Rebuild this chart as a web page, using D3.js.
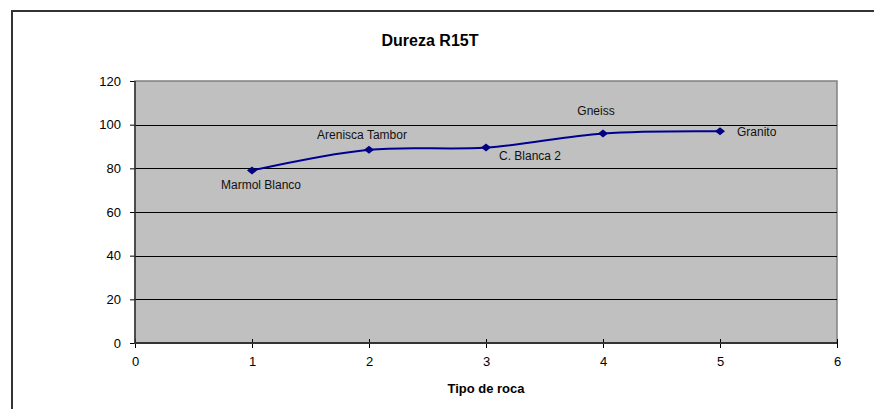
<!DOCTYPE html>
<html>
<head>
<meta charset="utf-8">
<script src="https://cdn.jsdelivr.net/npm/d3@7"></script>
<style>
  body { margin: 0; background: #fff; }
  svg { display: block; font-family: "Liberation Sans", Arial, sans-serif; }
</style>
</head>
<body>
<svg id="chart" width="874" height="409"></svg>
<script>
'use strict';

// data
var rocks   = ['Marmol Blanco', 'Arenisca Tambor', 'C. Blanca 2', 'Gneiss', 'Granito']
  , tipo    = [1, 2, 3, 4, 5]
  , dureza  = [79, 88.5, 89.5, 96, 97]
  , place   = ['below', 'above', 'belowRight', 'aboveHigh', 'right']   // label placement
  , xTicks  = [0, 1, 2, 3, 4, 5, 6]
  , yTicks  = [0, 20, 40, 60, 80, 100, 120];

var svg = d3.select('#chart')
  , m = { left: 135, right: 837, top: 81, bottom: 343 };

var x = d3.scaleLinear().domain([0, 6]).range([m.left, m.right])
  , y = d3.scaleLinear().domain([0, 120]).range([m.bottom, m.top]);

// outer frame (only top + left visible in the crop)
svg.append('path')
   .attr('d', 'M12,409 V11 H874')
   .attr('fill', 'none')
   .attr('stroke', '#333')
   .attr('stroke-width', 2);

// plot area
svg.append('rect')
   .attr('x', m.left).attr('y', m.top)
   .attr('width', m.right - m.left).attr('height', m.bottom - m.top)
   .attr('fill', '#c0c0c0')
   .attr('stroke', '#808080')
   .attr('stroke-width', 1.5);

// grid
svg.append('g').selectAll('line')
   .data(yTicks.filter(function(d){ return d > 0 && d < 120; }))
   .enter().append('line')
   .attr('x1', m.left).attr('x2', m.right)
   .attr('y1', function(d){ return Math.round(y(d)) + 0.5; })
   .attr('y2', function(d){ return Math.round(y(d)) + 0.5; })
   .attr('stroke', '#000').attr('stroke-width', 1);

// axes
var xAxis = d3.axisBottom(x).tickValues(xTicks).tickFormat(d3.format('d')).tickSize(5).tickPadding(9)
  , yAxis = d3.axisLeft(y).tickValues(yTicks).tickFormat(d3.format('d')).tickSize(5).tickPadding(9);

function styleAxis(g){
  g.select('.domain').remove();
  g.selectAll('.tick line').attr('stroke', '#000');
  g.selectAll('.tick text')
   .attr('font-size', 13).attr('fill', '#000')
   .attr('font-family', '"Liberation Sans", Arial, sans-serif');
}

svg.append('g').attr('transform', 'translate(0,' + m.bottom + ')')
   .call(xAxis).call(styleAxis)
   .selectAll('.tick line').attr('y1', -4);

svg.append('g').attr('transform', 'translate(' + m.left + ',0)')
   .call(yAxis).call(styleAxis);

// axis lines
svg.append('line')
   .attr('x1', m.left).attr('x2', m.left)
   .attr('y1', m.top).attr('y2', m.bottom)
   .attr('stroke', '#333').attr('stroke-width', 1.5);
svg.append('line')
   .attr('x1', m.left - 1).attr('x2', m.right)
   .attr('y1', m.bottom).attr('y2', m.bottom)
   .attr('stroke', '#333').attr('stroke-width', 2);

// smoothed series
var pts = tipo.map(function(t, i){ return [t, dureza[i]]; });

svg.append('path')
   .datum(pts)
   .attr('d', d3.line()
     .x(function(d){ return x(d[0]); })
     .y(function(d){ return y(d[1]); })
     .curve(d3.curveCatmullRom.alpha(0.5)))
   .attr('fill', 'none')
   .attr('stroke', '#000090')
   .attr('stroke-width', 2);

svg.append('g').selectAll('path')
   .data(pts)
   .enter().append('path')
   .attr('transform', function(d){ return 'translate(' + x(d[0]) + ',' + y(d[1]) + ')'; })
   .attr('d', 'M0,-4 L5,0 L0,4 L-5,0 Z')
   .attr('fill', '#000080');

// data labels
var offs = {
  below:      { dx: 9,   dy: 18,  anchor: 'middle' },
  above:      { dx: -7,  dy: -11, anchor: 'middle' },
  aboveHigh:  { dx: -7,  dy: -18, anchor: 'middle' },
  belowRight: { dx: 13,  dy: 12,  anchor: 'start' },
  right:      { dx: 17,  dy: 5,   anchor: 'start' }
};

svg.append('g').selectAll('text')
   .data(pts)
   .enter().append('text')
   .attr('x', function(d, i){ return x(d[0]) + offs[place[i]].dx; })
   .attr('y', function(d, i){ return y(d[1]) + offs[place[i]].dy; })
   .attr('text-anchor', function(d, i){ return offs[place[i]].anchor; })
   .attr('font-size', 12)
   .attr('fill', '#111')
   .text(function(d, i){ return rocks[i]; });

// titles
svg.append('text')
   .attr('x', 430).attr('y', 46)
   .attr('text-anchor', 'middle')
   .attr('font-size', 16).attr('font-weight', 'bold')
   .text('Dureza R15T');

svg.append('text')
   .attr('x', x(3)).attr('y', 393)
   .attr('text-anchor', 'middle')
   .attr('font-size', 13).attr('font-weight', 'bold')
   .text('Tipo de roca');
</script>
</body>
</html>
